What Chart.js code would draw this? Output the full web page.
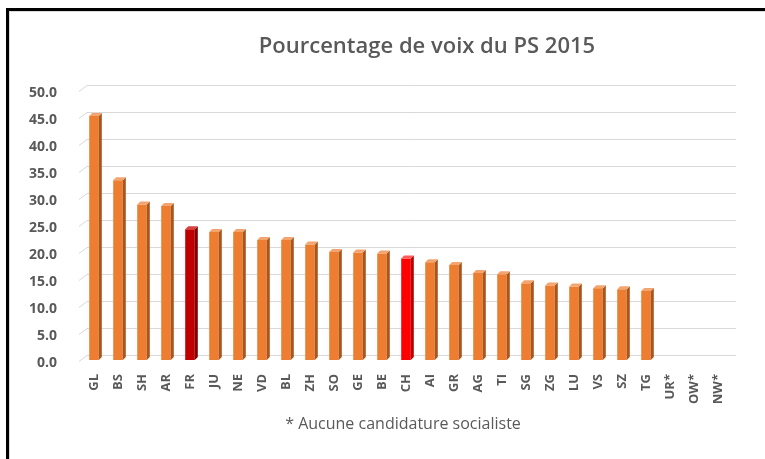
<!DOCTYPE html>
<html>
<head>
<meta charset="utf-8">
<script src="https://cdn.jsdelivr.net/npm/chart.js@4/dist/chart.umd.min.js"></script>
<style>
  html, body { margin: 0; padding: 0; background: #fff; }
  #wrap { width: 765px; height: 459px; position: relative; }
</style>
</head>
<body>
<div id="wrap"><canvas id="myChart" width="765" height="459"></canvas></div>
<script>
// data
var cantons = ['GL','BS','SH','AR','FR','JU','NE','VD','BL','ZH','SO','GE','BE','CH','AI','GR','AG','TI','SG','ZG','LU','VS','SZ','TG','UR*','OW*','NW*'];
var votes = [45.2, 33.3, 28.8, 28.5, 24.2, 23.7, 23.7, 22.2, 22.2, 21.4, 20.0, 19.9, 19.7, 18.8, 18.1, 17.6, 16.1, 15.9, 14.2, 13.8, 13.6, 13.3, 13.1, 12.8, null, null, null];
var titleText = 'Pourcentage de voix du PS 2015';
var noteText = '* Aucune candidature socialiste';

// colours: front face, side face, top face
var orange = ['#ED7D31', '#A9561E', '#F4A46E'];
var darkRed = ['#C00000', '#7F0000', '#D94040'];
var red = ['#FF0000', '#B80000', '#FF5A5A'];

function pick(lbl) {
  if (lbl == 'FR') return darkRed;
  if (lbl == 'CH') return red;
  return orange;
}
var fronts = cantons.map(function(c){ return pick(c)[0]; });

var grey = '#595959';
var fam = "'Open Sans'";
var DX = 3, DY = 3;   // bar depth

var frame = {
  id: 'frame',
  beforeDraw: function(chart) {
    var ctx = chart.ctx;
    ctx.save();
    ctx.fillStyle = '#fff';
    ctx.fillRect(0, 0, chart.width, chart.height);
    ctx.fillStyle = '#000';
    ctx.fillRect(6, 8, 3, chart.height - 8);
    ctx.fillRect(6, 8, chart.width - 6, 3);
    ctx.fillStyle = '#D9D9D9';
    ctx.fillRect(9, 11, 1, chart.height - 11);
    ctx.fillRect(9, 11, chart.width - 9, 1);
    ctx.restore();
  },
  beforeDatasetsDraw: function(chart) {
    // back wall gridlines with a small diagonal on the left
    var ctx = chart.ctx, ys = chart.scales.y, a = chart.chartArea;
    ctx.save();
    ctx.strokeStyle = '#D9D9D9';
    ctx.lineWidth = 1;
    ys.ticks.forEach(function(t) {
      var y = Math.round(ys.getPixelForValue(t.value)) + 0.5;
      ctx.beginPath();
      ctx.moveTo(a.left - 3, y + 1);
      ctx.lineTo(a.left + 5, y - 5);
      ctx.lineTo(a.right + 6, y - 5);
      ctx.stroke();
    });
    ctx.restore();
  },
  afterDatasetsDraw: function(chart) {
    // side and top faces of each bar
    var ctx = chart.ctx;
    var meta = chart.getDatasetMeta(0);
    ctx.save();
    meta.data.forEach(function(bar, i) {
      if (votes[i] == null) return;
      var p = bar.getProps(['x', 'y', 'base', 'width'], true);
      var l = p.x - p.width / 2, r = p.x + p.width / 2;
      var col = pick(cantons[i]);
      ctx.fillStyle = col[1];
      ctx.beginPath();
      ctx.moveTo(r, p.base);
      ctx.lineTo(r, p.y);
      ctx.lineTo(r + DX, p.y - DY);
      ctx.lineTo(r + DX, p.base - DY);
      ctx.closePath();
      ctx.fill();
      ctx.fillStyle = col[2];
      ctx.beginPath();
      ctx.moveTo(l, p.y);
      ctx.lineTo(r, p.y);
      ctx.lineTo(r + DX, p.y - DY);
      ctx.lineTo(l + DX, p.y - DY);
      ctx.closePath();
      ctx.fill();
    });
    ctx.restore();
  },
  afterDraw: function(chart) {
    var ctx = chart.ctx;
    ctx.save();
    ctx.fillStyle = grey;
    ctx.textAlign = 'center';
    ctx.textBaseline = 'middle';
    ctx.font = '600 22px ' + fam;
    ctx.fillText(titleText, 427, 47);
    ctx.font = '16px ' + fam;
    ctx.fillText(noteText, 403, 424);
    ctx.restore();
  }
};

var myChart = document.getElementById('myChart');
var chch = new Chart(myChart, {
  type: 'bar',
  data: {
    labels: cantons,
    datasets: [{
      label: 'PS 2015',
      data: votes,
      backgroundColor: fronts,
      borderWidth: 0,
      categoryPercentage: 1.0,
      barPercentage: 0.4
    }]
  },
  options: {
    responsive: false,
    animation: false,
    layout: { padding: { top: 90, left: 10, right: 35, bottom: 54 } },
    plugins: {
      legend: { display: false },
      title: { display: false },
      tooltip: { enabled: false }
    },
    scales: {
      x: {
        grid: { display: false },
        border: { display: false },
        afterFit: function(s) { s.height = 45; },
        ticks: {
          color: grey,
          font: { family: fam, size: 13, weight: 'bold' },
          minRotation: 90,
          maxRotation: 90,
          padding: 6,
          autoSkip: false
        }
      },
      y: {
        min: 0,
        max: 50,
        grid: { display: false },
        border: { display: false },
        afterFit: function(s) { s.width = 72; },
        ticks: {
          stepSize: 5,
          color: grey,
          padding: 17,
          labelOffset: 3,
          font: { family: fam, size: 14, weight: 'bold' },
          callback: function(v) { return v.toFixed(1); }
        }
      }
    }
  },
  plugins: [frame]
});
</script>
</body>
</html>
